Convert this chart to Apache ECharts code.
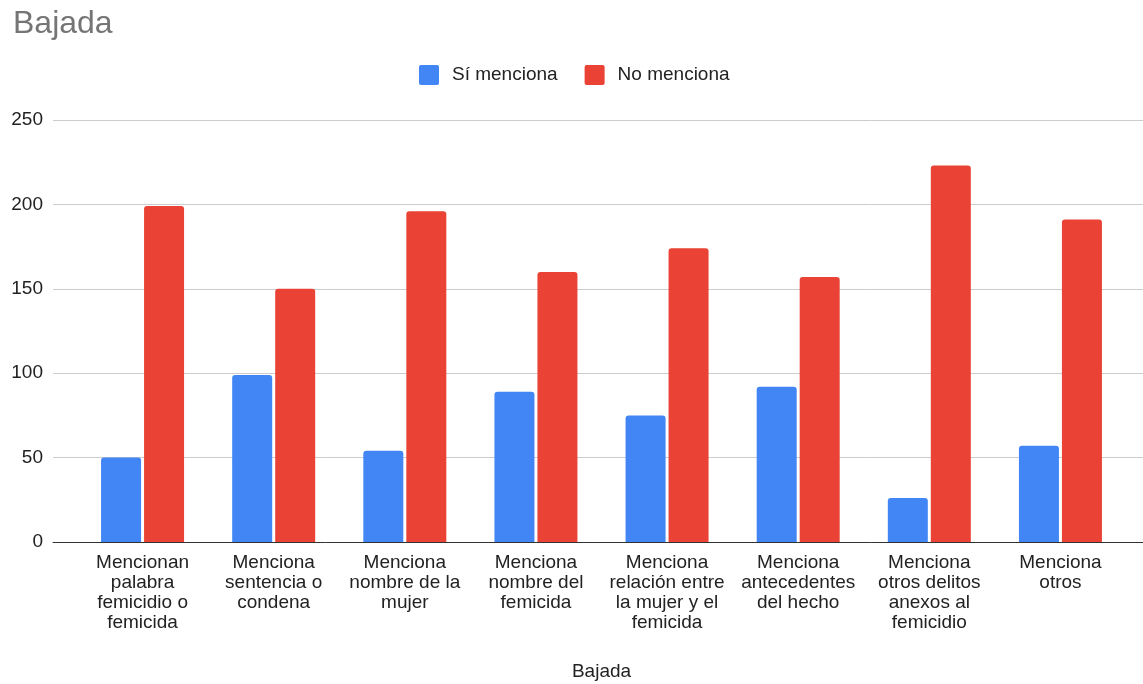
<!DOCTYPE html>
<html>
<head>
<meta charset="utf-8">
<script src="https://cdn.jsdelivr.net/npm/echarts@6/dist/echarts.min.js"></script>
<style>html,body{margin:0;padding:0;background:#fff}#c{width:1143px;height:684px}</style>
</head>
<body>
<div id="c"></div>
<script>
const categories = [
  "Mencionan\npalabra\nfemicidio o\nfemicida",
  "Menciona\nsentencia o\ncondena",
  "Menciona\nnombre de la\nmujer",
  "Menciona\nnombre del\nfemicida",
  "Menciona\nrelación entre\nla mujer y el\nfemicida",
  "Menciona\nantecedentes\ndel hecho",
  "Menciona\notros delitos\nanexos al\nfemicidio",
  "Menciona\notros"
];
const siMenciona = [50, 99, 54, 89, 75, 92, 26, 57];
const noMenciona = [199, 150, 196, 160, 174, 157, 223, 191];
const seriesNames = ["Sí menciona", "No menciona"];
const yTicks = { min: 0, max: 250, interval: 50 };

const FONT = '"Liberation Sans", Arial, sans-serif';
const chart = echarts.init(document.getElementById('c'), null, { renderer: 'canvas' });
chart.setOption({
  animation: false,
  backgroundColor: '#ffffff',
  title: {
    text: 'Bajada', left: 8, top: 3,
    textStyle: { fontFamily: FONT, fontSize: 32, fontWeight: 'normal', color: '#757575' }
  },
  legend: {
    left: 419, top: 65, padding: 0, itemWidth: 20, itemHeight: 20, itemGap: 27,
    icon: 'path://M2,0 L18,0 Q20,0 20,2 L20,18 Q20,20 18,20 L2,20 Q0,20 0,18 L0,2 Q0,0 2,0 Z',
    textStyle: { fontFamily: FONT, fontSize: 19, color: '#222', padding: [0, 0, 0, 8] },
    data: seriesNames
  },
  grid: [
    { left: 77, right: 17, top: 120, bottom: 142, containLabel: false, outerBoundsMode: 'none' },
    { left: 53, right: 0, top: 120, bottom: 142, containLabel: false, outerBoundsMode: 'none' }
  ],
  xAxis: [
    {
      type: 'category', gridIndex: 0, data: categories,
      axisLine: { show: false }, axisTick: { show: false },
      axisLabel: { interval: 0, margin: 11, fontFamily: FONT, fontSize: 19, lineHeight: 20, color: '#222' },
      name: 'Bajada', nameLocation: 'middle', nameGap: 120,
      nameTextStyle: { fontFamily: FONT, fontSize: 19, color: '#222' }
    },
    {
      type: 'value', gridIndex: 1, min: 0, max: 1,
      axisLine: { show: true, lineStyle: { color: '#333', width: 1 } },
      axisTick: { show: false }, axisLabel: { show: false }, splitLine: { show: false }
    }
  ],
  yAxis: [
    { type: 'value', gridIndex: 0, min: yTicks.min, max: yTicks.max, interval: yTicks.interval, show: false },
    {
      type: 'value', gridIndex: 1, min: yTicks.min, max: yTicks.max, interval: yTicks.interval,
      axisLine: { show: false }, axisTick: { show: false },
      axisLabel: { margin: 10, fontFamily: FONT, fontSize: 19, color: '#222' },
      splitLine: { lineStyle: { color: '#cccccc', width: 1 } }
    }
  ],
  series: [
    {
      name: seriesNames[0], type: 'bar', xAxisIndex: 0, yAxisIndex: 0, data: siMenciona,
      barWidth: 40, barGap: '7.5%',
      itemStyle: { color: '#4285F4', borderRadius: [3, 3, 0, 0] }
    },
    {
      name: seriesNames[1], type: 'bar', xAxisIndex: 0, yAxisIndex: 0, data: noMenciona,
      barWidth: 40, barGap: '7.5%',
      itemStyle: { color: '#EA4335', borderRadius: [3, 3, 0, 0] }
    }
  ]
});
</script>
</body>
</html>
